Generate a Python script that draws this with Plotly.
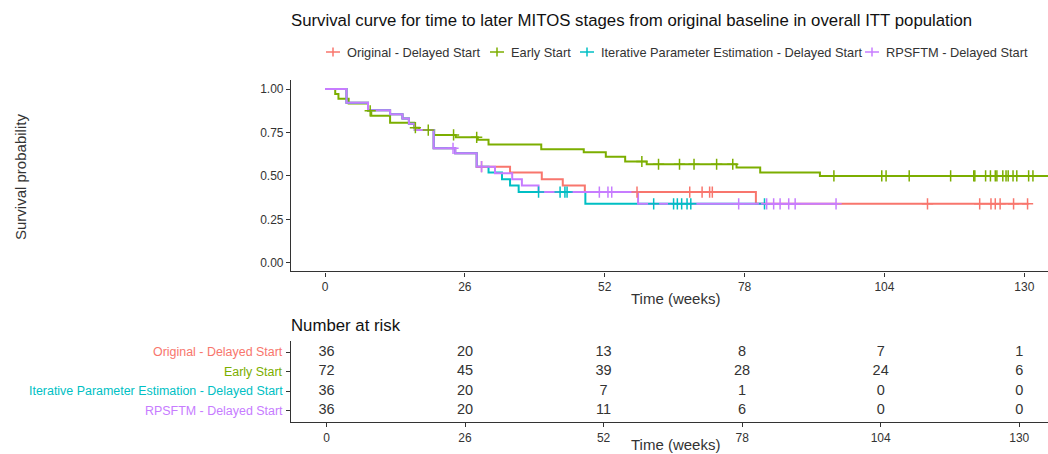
import numpy as np
import plotly.graph_objects as go

W, H = 1048, 454

groups = [
    "Original - Delayed Start",
    "Early Start",
    "Iterative Parameter Estimation - Delayed Start",
    "RPSFTM - Delayed Start",
]
colors = ["#F8766D", "#7CAE00", "#00BFC4", "#C77CFF"]

# Kaplan-Meier estimates: step times (weeks) and survival after each step
orig_time = [0, 4.0, 8.0, 12.1, 14.4, 15.6, 16.7, 20.2, 24.2, 28.2, 34.4, 40.3, 44.2, 48.3, 80.1]
orig_surv = [1.0, 0.922, 0.878, 0.855, 0.830, 0.801, 0.764, 0.659, 0.630, 0.553, 0.519, 0.481, 0.444, 0.407, 0.339]
orig_last = 130.8
orig_cens = [29.1, 58.0, 67.8, 70.1, 71.5, 72.0, 112.0, 121.7, 123.8, 124.6, 125.5, 128.0, 130.6]

early_time = [0, 1.9, 2.5, 4.4, 8.0, 8.6, 12.1, 16.6, 17.5, 20.3, 24.3, 28.4, 30.4, 40.2,
              48.1, 52.2, 55.8, 59.8, 76.5, 80.9, 92.0]
early_surv = [1.0, 0.972, 0.944, 0.917, 0.875, 0.847, 0.806, 0.778, 0.764, 0.736, 0.722, 0.708,
              0.681, 0.653, 0.636, 0.611, 0.583, 0.567, 0.549, 0.520, 0.500]
early_last = 136.0
early_cens = [8.4, 16.8, 19.2, 23.9, 28.2, 58.9, 62.0, 65.9, 68.6, 72.8, 75.8, 94.6, 103.5,
              104.3, 108.6, 116.3, 120.6, 120.8, 122.8, 123.7, 124.6, 124.9, 126.0, 126.6,
              127.0, 127.9, 128.6, 130.8, 131.6]

ipe_time = [0, 4.0, 8.0, 12.1, 14.4, 15.6, 16.7, 20.2, 24.2, 28.2, 30.4, 32.9, 34.4, 36.0, 48.4]
ipe_surv = [1.0, 0.922, 0.878, 0.855, 0.830, 0.801, 0.764, 0.659, 0.630, 0.553, 0.519, 0.481, 0.444, 0.407, 0.339]
ipe_last = 81.7
ipe_cens = [39.7, 43.7, 44.6, 45.0, 61.1, 64.8, 65.5, 66.3, 67.3, 68.0, 81.7]

rps_time = [0, 4.0, 8.0, 12.1, 14.4, 15.6, 16.7, 20.2, 24.2, 28.2, 31.6, 34.8, 36.6, 39.7, 58.2]
rps_surv = [1.0, 0.922, 0.878, 0.855, 0.830, 0.801, 0.764, 0.659, 0.630, 0.553, 0.515, 0.480, 0.444, 0.407, 0.339]
rps_last = 95.0
rps_cens = [23.8, 29.1, 51.0, 52.6, 53.3, 76.9, 82.1, 83.4, 84.6, 86.2, 87.4, 95.0]

# Number at risk table
risk_weeks = [0, 26, 52, 78, 104, 130]
risk_orig = [36, 20, 13, 8, 7, 1]
risk_early = [72, 45, 39, 28, 24, 6]
risk_ipe = [36, 20, 7, 1, 0, 0]
risk_rps = [36, 20, 11, 6, 0, 0]

week_ticks = [0, 26, 52, 78, 104, 130]
surv_ticks = [0, 0.25, 0.5, 0.75, 1.0]
surv_ticktext = ["0.00", "0.25", "0.50", "0.75", "1.00"]

curves = [
    (orig_time, orig_surv, orig_last, orig_cens),
    (early_time, early_surv, early_last, early_cens),
    (ipe_time, ipe_surv, ipe_last, ipe_cens),
    (rps_time, rps_surv, rps_last, rps_cens),
]
risk_rows = [risk_orig, risk_early, risk_ipe, risk_rps]

FONT = "Liberation Sans, Arial, Helvetica, sans-serif"
TXT = "#333333"


def fx(px):
    return px / W


def fy(py):
    return 1 - py / H


fig = go.Figure()

# survival step lines
for (t, s, last, _), name, col in zip(curves, groups, colors):
    fig.add_trace(go.Scatter(
        x=list(t) + [last], y=list(s) + [s[-1]],
        mode="lines", line=dict(color=col, width=2, shape="hv"),
        name=name, showlegend=False, hoverinfo="skip",
        xaxis="x", yaxis="y",
    ))

# censoring marks on top of all lines
for (t, s, last, cens), name, col in zip(curves, groups, colors):
    t_arr = np.asarray(t)
    s_arr = np.asarray(s)
    idx = np.searchsorted(t_arr, np.asarray(cens), side="right") - 1
    fig.add_trace(go.Scatter(
        x=cens, y=s_arr[idx], mode="markers",
        marker=dict(symbol="cross-thin", size=8, line=dict(color=col, width=1.5)),
        showlegend=False, hoverinfo="skip", xaxis="x", yaxis="y",
    ))

# risk table numbers
for i, row in enumerate(risk_rows):
    fig.add_trace(go.Scatter(
        x=risk_weeks, y=[i + 1] * len(risk_weeks), mode="text",
        text=[str(v) for v in row],
        textfont=dict(family=FONT, size=14.5, color=TXT),
        showlegend=False, hoverinfo="skip", cliponaxis=False,
        xaxis="x2", yaxis="y2",
    ))

axis_common = dict(
    showline=True, linecolor="#333333", linewidth=1.2,
    ticks="outside", ticklen=4, tickwidth=1, tickcolor="#333333",
    showgrid=False, zeroline=False,
)
tick_font = dict(family=FONT, size=12, color=TXT)

row_y0, row_step = 352.3, 19.45  # pixel centre of first table row and row spacing
table_top = row_y0 - 0.6 * row_step
table_bottom = row_y0 + 3.6 * row_step

fig.update_layout(
    width=W, height=H,
    margin=dict(l=0, r=0, t=0, b=0),
    paper_bgcolor="white", plot_bgcolor="white",
    showlegend=False,
    xaxis=dict(domain=[fx(291), 1], range=[-6.32, 134.4], anchor="y",
               tickvals=week_ticks, tickfont=tick_font, **axis_common),
    yaxis=dict(domain=[fy(271.4), fy(80.4)], range=[-0.05, 1.05], anchor="x",
               tickvals=surv_ticks, ticktext=surv_ticktext, tickfont=tick_font, **axis_common),
    xaxis2=dict(domain=[fx(291), 1], range=[-6.66, 135.4], anchor="y2",
                tickvals=week_ticks, tickfont=tick_font, **axis_common),
    yaxis2=dict(domain=[fy(table_bottom), fy(table_top)], range=[4.6, 0.4], anchor="x2",
                tickvals=[1, 2, 3, 4], showticklabels=False, **axis_common),
)

annotations = [
    dict(text="Survival curve for time to later MITOS stages from original baseline in overall ITT population",
         x=fx(289), y=fy(20), xanchor="left", yanchor="middle",
         font=dict(family=FONT, size=16.8, color="#111111")),
    dict(text="Survival probability", x=fx(20), y=fy(177), textangle=-90,
         xanchor="center", yanchor="middle", font=dict(family=FONT, size=15, color=TXT)),
    dict(text="Time (weeks)", x=fx(675), y=fy(298), xanchor="center", yanchor="middle",
         font=dict(family=FONT, size=15, color=TXT)),
    dict(text="Number at risk", x=fx(289), y=fy(325), xanchor="left", yanchor="middle",
         font=dict(family=FONT, size=16.8, color="#111111")),
    dict(text="Time (weeks)", x=fx(675), y=fy(444.5), xanchor="center", yanchor="middle",
         font=dict(family=FONT, size=15, color=TXT)),
]

# coloured group names beside the risk table rows
for i, (g, c) in enumerate(zip(groups, colors)):
    annotations.append(dict(text=g, x=fx(285), y=fy(row_y0 + i * row_step),
                            xanchor="right", yanchor="middle",
                            font=dict(family=FONT, size=12.45, color=c)))

# legend row: key glyph followed by label
legend_keys = [333, 497, 587, 872]
legend_y = 52
shapes = []
for g, c, kx in zip(groups, colors, legend_keys):
    shapes.append(dict(type="line", xref="paper", yref="paper",
                       x0=fx(kx - 7), x1=fx(kx + 7), y0=fy(legend_y), y1=fy(legend_y),
                       line=dict(color=c, width=1.5)))
    shapes.append(dict(type="line", xref="paper", yref="paper",
                       x0=fx(kx), x1=fx(kx), y0=fy(legend_y - 4.5), y1=fy(legend_y + 4.5),
                       line=dict(color=c, width=1.5)))
    annotations.append(dict(text=g, x=fx(kx + 12), y=fy(legend_y), xanchor="left",
                            yanchor="middle", font=dict(family=FONT, size=12.8, color=TXT)))

for a in annotations:
    a.update(xref="paper", yref="paper", showarrow=False)

fig.update_layout(annotations=annotations, shapes=shapes)

fig.write_html("out.html")
